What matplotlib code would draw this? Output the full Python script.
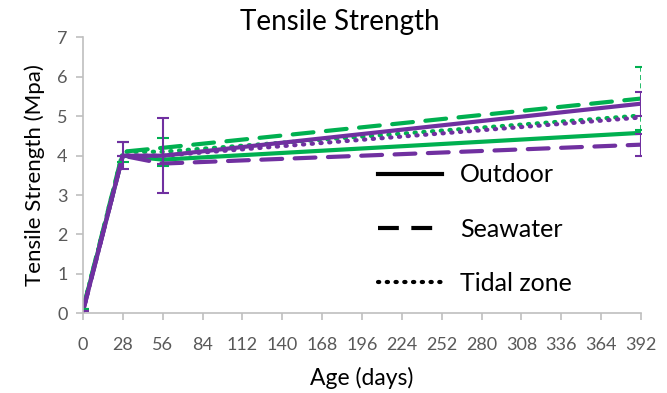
import numpy as np
import matplotlib.pyplot as plt

plt.rcParams['font.family'] = ['Lato', 'DejaVu Sans']

# ages (days)
age = [0, 28, 56, 392]

# tensile strength (MPa)
outdoor_green = [0.10, 4.00, 3.90, 4.58]
outdoor_purple = [0.05, 4.00, 4.00, 5.32]
seawater_green = [0.10, 4.10, 4.20, 5.45]
seawater_purple = [0.05, 4.00, 3.80, 4.28]
tidal_green = [0.10, 4.10, 4.10, 5.02]
tidal_purple = [0.05, 4.00, 4.00, 4.97]

# error bars (below, above) per series and age
err_outdoor_purple = [[0, 0.35, 0.95, 0.30], [0, 0.35, 0.95, 0.30]]
err_seawater_green = [[0, 0.25, 0.45, 0.80], [0, 0.25, 0.25, 0.80]]
err_seawater_purple = [[0, 0, 0, 0.28], [0, 0, 0, 0.28]]

green = '#00B050'
purple = '#7030A0'
gray = '#595959'

fig = plt.figure(figsize=(6.67, 3.93), dpi=100)
ax = fig.add_axes([0.1244, 0.2028, 0.8366, 0.7018])

lw = 3.0
dashed = (0, (5, 3))
dotted = (0, (0.3, 1.8))
ax.plot(age, outdoor_green, color=green, lw=lw, solid_capstyle='round')
ax.plot(age, seawater_green, color=green, lw=lw, ls=dashed, dash_capstyle='round')
ax.plot(age, tidal_green, color=green, lw=lw, ls=dotted, dash_capstyle='round')
ax.plot(age, outdoor_purple, color=purple, lw=lw, solid_capstyle='round')
ax.plot(age, seawater_purple, color=purple, lw=lw, ls=dashed, dash_capstyle='round')
ax.plot(age, tidal_purple, color=purple, lw=lw, ls=dotted, dash_capstyle='round')

eb = ax.errorbar(age, seawater_green, yerr=err_seawater_green, fmt='none',
                 ecolor=green, elinewidth=1.2, capsize=4, capthick=1.5)
eb[2][0].set_linestyle((0, (3, 2)))
ax.errorbar(age, outdoor_purple, yerr=err_outdoor_purple, fmt='none',
            ecolor=purple, elinewidth=1.5, capsize=4, capthick=1.5)
ax.errorbar(age, seawater_purple, yerr=err_seawater_purple, fmt='none',
            ecolor=purple, elinewidth=1.5, capsize=4, capthick=1.5)

ax.set_xlim(0, 392)
ax.set_ylim(0, 7)
ax.set_xticks(np.arange(0, 393, 28))
ax.set_yticks(range(0, 8))

for s in ['top', 'right']:
    ax.spines[s].set_visible(False)
for s in ['left', 'bottom']:
    ax.spines[s].set_color('#BFBFBF')
    ax.spines[s].set_linewidth(1.2)
ax.tick_params(axis='both', colors='#BFBFBF', labelcolor=gray, labelsize=13,
               length=5, width=1.2)
ax.tick_params(axis='x', pad=12)
ax.tick_params(axis='y', pad=6)

fig.text(340 / 667, 1 - 22 / 393, 'Tensile Strength', fontsize=20,
         ha='center', va='center')
ax.set_xlabel('Age (days)', fontsize=16.5, labelpad=10)
ax.set_ylabel('Tensile Strength (Mpa)', fontsize=16, labelpad=9)

# legend in black
h1, = ax.plot([], [], color='black', lw=lw)
h2, = ax.plot([], [], color='black', lw=lw, ls=dashed)
h3, = ax.plot([], [], color='black', lw=lw, ls=dotted, dash_capstyle='round')
ax.legend([h1, h2, h3], ['Outdoor', 'Seawater', 'Tidal zone'], frameon=False,
          fontsize=18, handlelength=2.56, handletextpad=0.72, labelspacing=1.25,
          loc='upper left', bbox_to_anchor=(0.488, 0.625))

fig.savefig('out.png', dpi=100)
